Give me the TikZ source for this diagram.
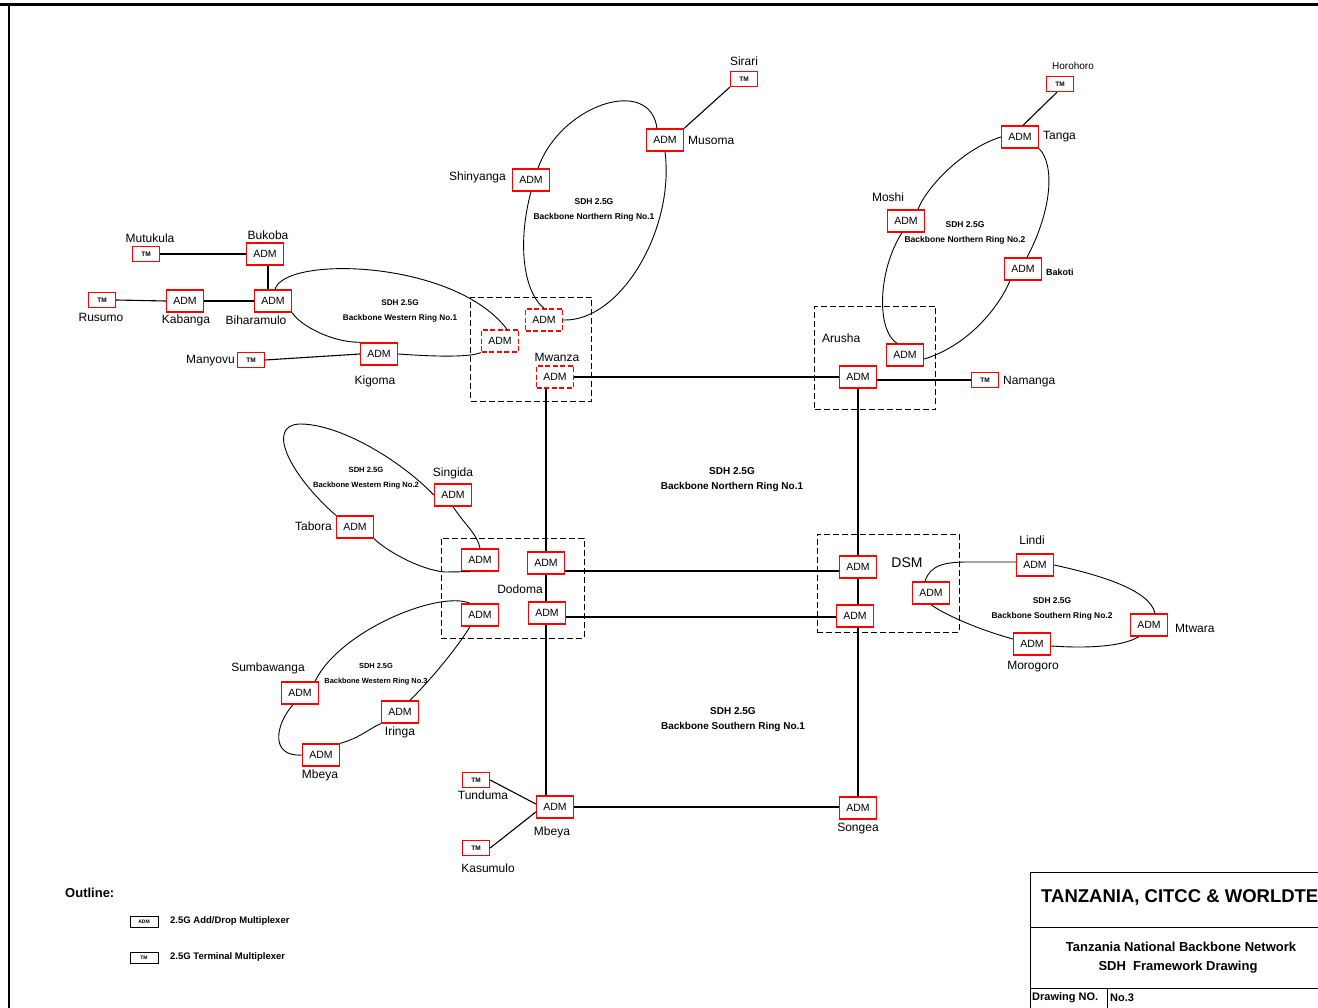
\documentclass[tikz,border=0pt]{standalone}
\usepackage{fontspec}
\setmainfont{Liberation Sans}
\newcommand\rlf[1]{\fontsize{#1}{15}\selectfont\bfseries}
\begin{document}
\begin{tikzpicture}[x=1pt,y=-1pt,
 adm/.style={draw=red, line width=1.3pt, minimum width=37pt, minimum height=22pt, inner sep=0pt, font=\fontsize{10.5}{10.5}\selectfont},
 admd/.style={adm, dash pattern=on 5pt off 2.5pt},
 tm/.style={draw=red, line width=1.3pt, minimum width=27pt, minimum height=15pt, inner sep=0pt, font=\fontsize{6.5}{6.5}\selectfont\bfseries},
 lbl/.style={font=\fontsize{12}{12}\selectfont, inner sep=0pt},
 slbl/.style={font=\fontsize{10}{10}\selectfont, inner sep=0pt},
 ringc/.style={line width=0.9pt},
 linkc/.style={line width=1.1pt},
 sitebox/.style={draw, line width=0.9pt, dash pattern=on 6pt off 3pt, inner sep=0pt},
 ringl/.style={align=center, inner sep=0pt},
 legbox/.style={draw, line width=1pt, minimum width=28pt, minimum height=11pt, inner sep=0pt, font=\fontsize{5}{5}\selectfont\bfseries},
 legtxt/.style={anchor=west, inner sep=0pt, font=\fontsize{9.5}{9.5}\selectfont\bfseries},
]
\useasboundingbox (0,0) rectangle (1318,1008);
\fill[white] (0,0) rectangle (1318,1008);
% frame
\draw[line width=3pt] (0,5) -- (1318,5);
\draw[line width=1.2pt] (9,5) -- (9,1008);

% site boxes
\node[sitebox, minimum width=121pt, minimum height=104pt] (mwz) at (531,349) {};
\node[sitebox, minimum width=121pt, minimum height=103pt] (aru) at (875,358) {};
\node[sitebox, minimum width=143pt, minimum height=100pt] (dod) at (512.5,588) {};
\node[sitebox, minimum width=142pt, minimum height=98pt] (dsm) at (888,583) {};

% equipment
\node[tm] (sir) at (744,79) {TM};
\node[adm] (mus) at (665,140) {ADM};
\node[adm] (shi) at (531,180) {ADM};
\node[admd] (mw1) at (544,320) {ADM};
\node[admd] (mw2) at (500,341) {ADM};
\node[admd] (mw3) at (555,377) {ADM};
\node[adm] (ar2) at (905,355) {ADM};
\node[adm] (ar1) at (858,377) {ADM};
\node[tm] (hor) at (1060,84) {TM};
\node[adm] (tan) at (1020,137) {ADM};
\node[adm] (mos) at (906,221) {ADM};
\node[adm] (sam) at (1023,269) {ADM};
\node[tm] (nam) at (985,380) {TM};
\node[tm] (mut) at (146,254) {TM};
\node[adm] (buk) at (265,254) {ADM};
\node[tm] (rus) at (102,300) {TM};
\node[adm] (kab) at (185,301) {ADM};
\node[adm] (bih) at (273,301) {ADM};
\node[adm] (kig) at (379,354) {ADM};
\node[tm] (man) at (251,360) {TM};
\node[adm] (sin) at (453,495) {ADM};
\node[adm] (tab) at (355,527) {ADM};
\node[adm] (dd1) at (480,560) {ADM};
\node[adm] (dd2) at (546,563) {ADM};
\node[adm] (dd3) at (480,615) {ADM};
\node[adm] (dd4) at (547,613) {ADM};
\node[adm] (ds1) at (858,567) {ADM};
\node[adm] (ds2) at (855,616) {ADM};
\node[adm] (dsr) at (931,593) {ADM};
\node[adm] (lin) at (1035,565) {ADM};
\node[adm] (mtw) at (1149,625) {ADM};
\node[adm] (mor) at (1032,644) {ADM};
\node[adm] (sum) at (300,693) {ADM};
\node[adm] (iri) at (400,712) {ADM};
\node[adm] (mbr) at (321,755) {ADM};
\node[tm] (tun) at (476,780) {TM};
\node[tm] (kas) at (476,848) {TM};
\node[adm] (mbm) at (555,807) {ADM};
\node[adm] (son) at (858,808) {ADM};

% links
\draw[linkc] (sir.south west) -- (mus.north east);
\draw[linkc] ([xshift=-3pt]hor.south) -- ([xshift=3pt]tan.north);
\draw[linkc] (mw3.east) -- (ar1.west);
\draw[linkc] ([yshift=-3pt]ar1.east) -- (nam.west);
\draw[linkc] (mut.east) -- (buk.west);
\draw[linkc] ([xshift=3pt]buk.south) -- ([xshift=-5pt]bih.north);
\draw[linkc] (rus.east) -- (kab.west);
\draw[linkc] (kab.east) -- (bih.west);
\draw[linkc] (man.east) -- (kig.west);
\draw[linkc] (mw3.south -| dd2.north) -- (dd2.north);
\draw[linkc] (dd2.south) -- (dd2.south |- dd4.north);
\draw[linkc] (dd2.south |- dd4.south) -- (dd2.south |- mbm.north);
\draw[linkc] (ar1.south) -- (ar1.south |- ds1.north);
\draw[linkc] (ar1.south |- ds1.south) -- (ar1.south |- ds2.north);
\draw[linkc] (ar1.south |- ds2.south) -- (ar1.south |- son.north);
\draw[linkc] ([yshift=-8pt]dd2.east) -- ([yshift=-4pt]ds1.west);
\draw[linkc] ([yshift=-4pt]dd4.east) -- ([yshift=-1pt]ds2.west);
\draw[linkc] (mbm.east) -- (mbm.east -| son.west);
\draw[linkc] (tun.east) -- ([yshift=3pt]mbm.west);
\draw[linkc] (kas.east) -- ([yshift=-5pt]mbm.west);

% ring A (Mwanza - Shinyanga - Musoma)
\draw[ringc] (shi.south) .. controls (518,240) and (522,290) .. (mw1.north);
\draw[ringc] ([xshift=7pt]shi.north) .. controls (560,105) and (650,75) .. ([xshift=-8pt]mus.north);
\draw[ringc] (mus.south) .. controls (675,230) and (620,322) .. (mw1.east);
% ring B (Western No.1)
\draw[ringc] ([xshift=2pt]bih.north) .. controls (285,255) and (455,260) .. ([xshift=7pt]mw2.north);
\draw[ringc] (bih.south east) .. controls (300,325) and (330,342) .. (kig.north west);
\draw[ringc] (kig.east) .. controls (440,357) and (470,357) .. (mw2.south west);
% ring C (Northern No.2)
\draw[ringc] (tan.west) .. controls (960,150) and (925,190) .. ([xshift=12pt]mos.north);
\draw[ringc] ([xshift=-4pt]mos.south) .. controls (878,270) and (876,330) .. ([xshift=-8pt]ar2.north);
\draw[ringc] ([yshift=-4pt]ar2.east) .. controls (970,345) and (1000,305) .. ([xshift=-13pt]sam.south);
\draw[ringc] ([xshift=4pt]sam.north) .. controls (1052,210) and (1055,165) .. (tan.south east);
% ring D (Western No.2)
\draw[ringc] (sin.south) .. controls (465,525) and (478,535) .. (dd1.north);
\draw[ringc] ([xshift=-10pt]dd1.south) -- (445,572) .. controls (420,570) and (385,550) .. (tab.south east);
\draw[ringc] (tab.north west) .. controls (290,475) and (265,425) .. (300,424) .. controls (340,424) and (400,460) .. (sin.west);
% ring E (Western No.3)
\draw[ringc] ([xshift=-10pt]dd3.north) .. controls (440,590) and (340,630) .. ([xshift=15pt]sum.north);
\draw[ringc] ([xshift=-7pt]sum.south) .. controls (275,725) and (270,757) .. (mbr.west);
\draw[ringc] (mbr.north east) .. controls (360,738) and (370,728) .. (iri.south west);
\draw[ringc] ([xshift=10pt]iri.north) .. controls (440,670) and (462,640) .. ([xshift=-10pt]dd3.south);
% ring F (Southern No.2)
\draw[ringc] ([xshift=-6pt]dsr.north) .. controls (930,565) and (945,562) .. (968,562) -- ([yshift=3pt]lin.west);
\draw[ringc] (lin.east) .. controls (1100,575) and (1150,590) .. ([xshift=6pt]mtw.north);
\draw[ringc] ([xshift=-10pt]mtw.south) .. controls (1120,648) and (1080,648) .. ([yshift=-2pt]mor.east);
\draw[ringc] ([yshift=5pt]mor.west) .. controls (980,630) and (945,615) .. (dsr.south);

% place labels
\node[lbl] (lsir) at (744,61) {Sirari};
\node[lbl, anchor=west] (lmus) at (688,140) {Musoma};
\node[lbl, anchor=east] (lshi) at (506,177) {Shinyanga};
\node[slbl] (lhor) at (1073,66) {Horohoro};
\node[lbl, anchor=west] (ltan) at (1043,137) {Tanga};
\node[lbl] (lmos) at (888,197) {Moshi};
\node[slbl, anchor=west, font=\fontsize{9}{9}\selectfont\bfseries] (lsam) at (1046,272) {Bakoti};
\node[lbl, anchor=west] (laru) at (822,338) {Arusha};
\node[lbl, anchor=west] (lnam) at (1003,382) {Namanga};
\node[lbl] (lmut) at (150,238) {Mutukula};
\node[lbl] (lbuk) at (268,235) {Bukoba};
\node[lbl] (lrus) at (101,317) {Rusumo};
\node[lbl] (lkab) at (186,320) {Kabanga};
\node[lbl] (lbih) at (256,320) {Biharamulo};
\node[lbl, anchor=east] (lman) at (235,361) {Manyovu};
\node[lbl] (lkig) at (375,381) {Kigoma};
\node[lbl] (lmwz) at (557,357) {Mwanza};
\node[lbl] (lsin) at (453,473) {Singida};
\node[lbl, anchor=east] (ltab) at (332,526) {Tabora};
\node[lbl] (ldod) at (520,589) {Dodoma};
\node[inner sep=0pt, font=\fontsize{14}{14}\selectfont] (ldsm) at (907,563) {DSM};
\node[lbl] (llin) at (1032,540) {Lindi};
\node[lbl, anchor=west] (lmtw) at (1175,628) {Mtwara};
\node[lbl] (lmor) at (1033,667) {Morogoro};
\node[lbl] (lsum) at (268,668) {Sumbawanga};
\node[lbl] (liri) at (400,732) {Iringa};
\node[lbl] (lmbr) at (320,775) {Mbeya};
\node[lbl] (ltun) at (483,795) {Tunduma};
\node[lbl] (lkas) at (488,868) {Kasumulo};
\node[lbl] (lmbm) at (552,832) {Mbeya};
\node[lbl] (lson) at (858,829) {Songea};

% ring labels
\node[ringl, font={\rlf{8.5}}] (rA) at (594,210) {SDH 2.5G\\Backbone Northern Ring No.1};
\node[ringl, font={\rlf{8.2}}] (rB) at (400,311) {SDH 2.5G\\Backbone Western Ring No.1};
\node[ringl, font={\rlf{8.5}}] (rC) at (965,233) {SDH 2.5G\\Backbone Northern Ring No.2};
\node[ringl, font={\rlf{7.6}}] (rD) at (366,478) {SDH 2.5G\\Backbone Western Ring No.2};
\node[ringl, font={\rlf{7.4}}] (rE) at (376,674) {SDH 2.5G\\Backbone Western Ring No.3};
\node[ringl, font={\rlf{8.4}}] (rF) at (1052,609) {SDH 2.5G\\Backbone Southern Ring No.2};
\node[ringl, font={\rlf{10}}] (rM) at (732,480) {SDH 2.5G\\Backbone Northern Ring No.1};
\node[ringl, font={\rlf{10}}] (rS) at (733,720) {SDH 2.5G\\Backbone Southern Ring No.1};

% legend
\node[anchor=west, inner sep=0pt, font=\fontsize{13}{13}\selectfont\bfseries] (lout) at (65,893) {Outline:};
\node[legbox] (lg1) at (144,922) {ADM};
\node[legbox] (lg2) at (144,958) {TM};
\node[legtxt] (lt1) at (170,921) {2.5G Add/Drop Multiplexer};
\node[legtxt] (lt2) at (170,957) {2.5G Terminal Multiplexer};

% title block
\draw[line width=1pt] (1318,872) -- (1030,872) -- (1030,1008);
\draw[line width=1pt] (1030,927) -- (1318,927);
\draw[line width=1pt] (1030,988) -- (1318,988);
\draw[line width=1pt] (1107,988) -- (1107,1008);
\node[anchor=west, inner sep=0pt, font=\fontsize{18.5}{18.5}\selectfont\bfseries] (tt1) at (1041,897) {TANZANIA, CITCC \& WORLDTE};
\node[inner sep=0pt, font=\fontsize{13}{13}\selectfont\bfseries] (tt2) at (1181,947) {Tanzania National Backbone Network};
\node[inner sep=0pt, font=\fontsize{13}{13}\selectfont\bfseries] (tt3) at (1178,967) {SDH\ \ Framework Drawing};
\node[anchor=west, inner sep=0pt, font=\fontsize{11}{11}\selectfont\bfseries] (tt4) at (1032,998) {Drawing NO.};
\node[anchor=west, inner sep=0pt, font=\fontsize{11}{11}\selectfont\bfseries] (tt5) at (1110,998) {No.3};
\end{tikzpicture}
\end{document}
